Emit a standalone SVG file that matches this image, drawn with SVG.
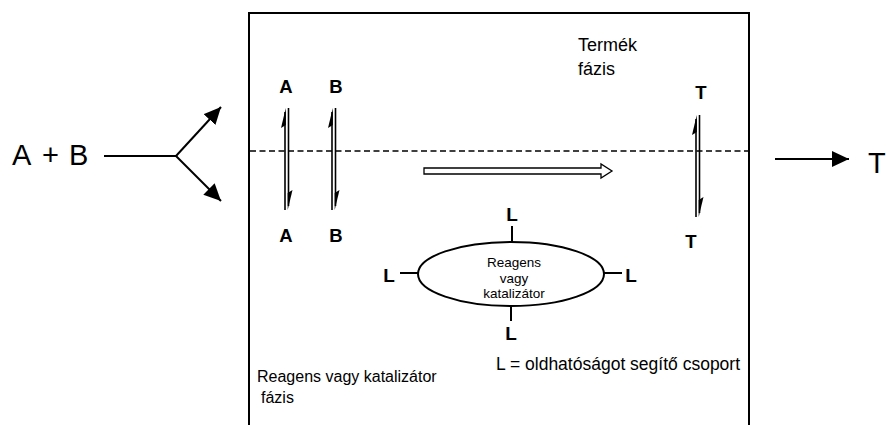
<svg xmlns="http://www.w3.org/2000/svg" width="886" height="425" viewBox="0 0 886 425">
<defs>
<style>
text{font-family:"Liberation Sans",Arial,sans-serif;fill:#000}
.big{font-size:29px}
.lbl{font-size:18.5px;font-weight:bold}
.L{font-size:19px;font-weight:bold}
.ln{stroke:#000;stroke-width:2;fill:none}
.thin{stroke:#000;stroke-width:1.6;fill:none}
</style>
<marker id="ah" markerUnits="userSpaceOnUse" markerWidth="20" markerHeight="18" refX="17" refY="8" orient="auto">
<path d="M0,0 L17,8 L0,16 Z" fill="#000"/>
</marker>
</defs>
<rect width="886" height="425" fill="#fff"/>

<g id="phase-box">
<path d="M249,425 V13 H749 V425" class="ln"/>
<line x1="250" y1="151" x2="748" y2="151" stroke="#000" stroke-width="1.6" stroke-dasharray="6,3.5"/>
</g>

<g id="input">
<text y="165" class="big"><tspan x="12">A</tspan><tspan x="42">+</tspan><tspan x="69">B</tspan></text>
</g>
<g id="output">
<text x="868" y="173" class="big">T</text>
</g>

<g id="connectors">
<path d="M104,156 H176" class="ln"/>
<path d="M176,156 L221,107" class="ln" marker-end="url(#ah)"/>
<path d="M176,156 L221,201" class="ln" marker-end="url(#ah)"/>
<path d="M775,159 H849" class="ln" marker-end="url(#ah)"/>
<path d="M424,168 H601 V164 L612,171 L601,178 V174 H424 Z" fill="#fff" stroke="#000" stroke-width="1.3"/>
</g>

<g id="eq-A">
<text x="286" y="93" class="lbl" text-anchor="middle">A</text>
<text x="286" y="242" class="lbl" text-anchor="middle">A</text>
<line x1="285" y1="112" x2="285" y2="210" class="thin"/>
<path d="M285.8,108 L281,128 L285.8,125 Z" fill="#000"/>
<line x1="288.5" y1="108" x2="288.5" y2="206" class="thin"/>
<path d="M287.7,210 L292.5,190 L287.7,193 Z" fill="#000"/>
</g>

<g id="eq-B">
<text x="336" y="93" class="lbl" text-anchor="middle">B</text>
<text x="336" y="242" class="lbl" text-anchor="middle">B</text>
<line x1="332" y1="112" x2="332" y2="210" class="thin"/>
<path d="M332.8,108 L328,128 L332.8,125 Z" fill="#000"/>
<line x1="335.5" y1="108" x2="335.5" y2="206" class="thin"/>
<path d="M334.7,210 L339.5,190 L334.7,193 Z" fill="#000"/>
</g>

<g id="eq-T">
<text x="701" y="99" class="lbl" text-anchor="middle">T</text>
<text x="691" y="248" class="lbl" text-anchor="middle">T</text>
<line x1="696" y1="119" x2="696" y2="217" class="thin"/>
<path d="M696.8,115 L692,135 L696.8,132 Z" fill="#000"/>
<line x1="699.5" y1="115" x2="699.5" y2="213" class="thin"/>
<path d="M698.7,217 L703.5,197 L698.7,200 Z" fill="#000"/>
</g>

<g id="product-phase-label">
<text x="578" y="51" font-size="18">Termék</text>
<text x="578" y="75" font-size="18">fázis</text>
</g>

<g id="catalyst">
<ellipse cx="511" cy="274" rx="93" ry="32" class="ln"/>
<text x="514" y="267" font-size="13.5" text-anchor="middle">Reagens</text>
<text x="514" y="283" font-size="13.5" text-anchor="middle">vagy</text>
<text x="514" y="298" font-size="13.5" text-anchor="middle">katalizátor</text>
<line x1="512" y1="226" x2="512" y2="242" class="ln"/>
<line x1="400" y1="273" x2="418" y2="273" class="ln"/>
<line x1="604" y1="273" x2="622" y2="273" class="ln"/>
<line x1="511" y1="305" x2="511" y2="321" class="ln"/>
<text x="512" y="221" class="L" text-anchor="middle">L</text>
<text x="389" y="282" class="L" text-anchor="middle">L</text>
<text x="631" y="282" class="L" text-anchor="middle">L</text>
<text x="511" y="340" class="L" text-anchor="middle">L</text>
</g>

<g id="legend">
<text x="496" y="370" font-size="17.5">L = oldhatóságot segítő csoport</text>
</g>

<g id="catalyst-phase-label">
<text x="257" y="382" font-size="16">Reagens vagy katalizátor</text>
<text x="261" y="403" font-size="16">fázis</text>
</g>
</svg>
